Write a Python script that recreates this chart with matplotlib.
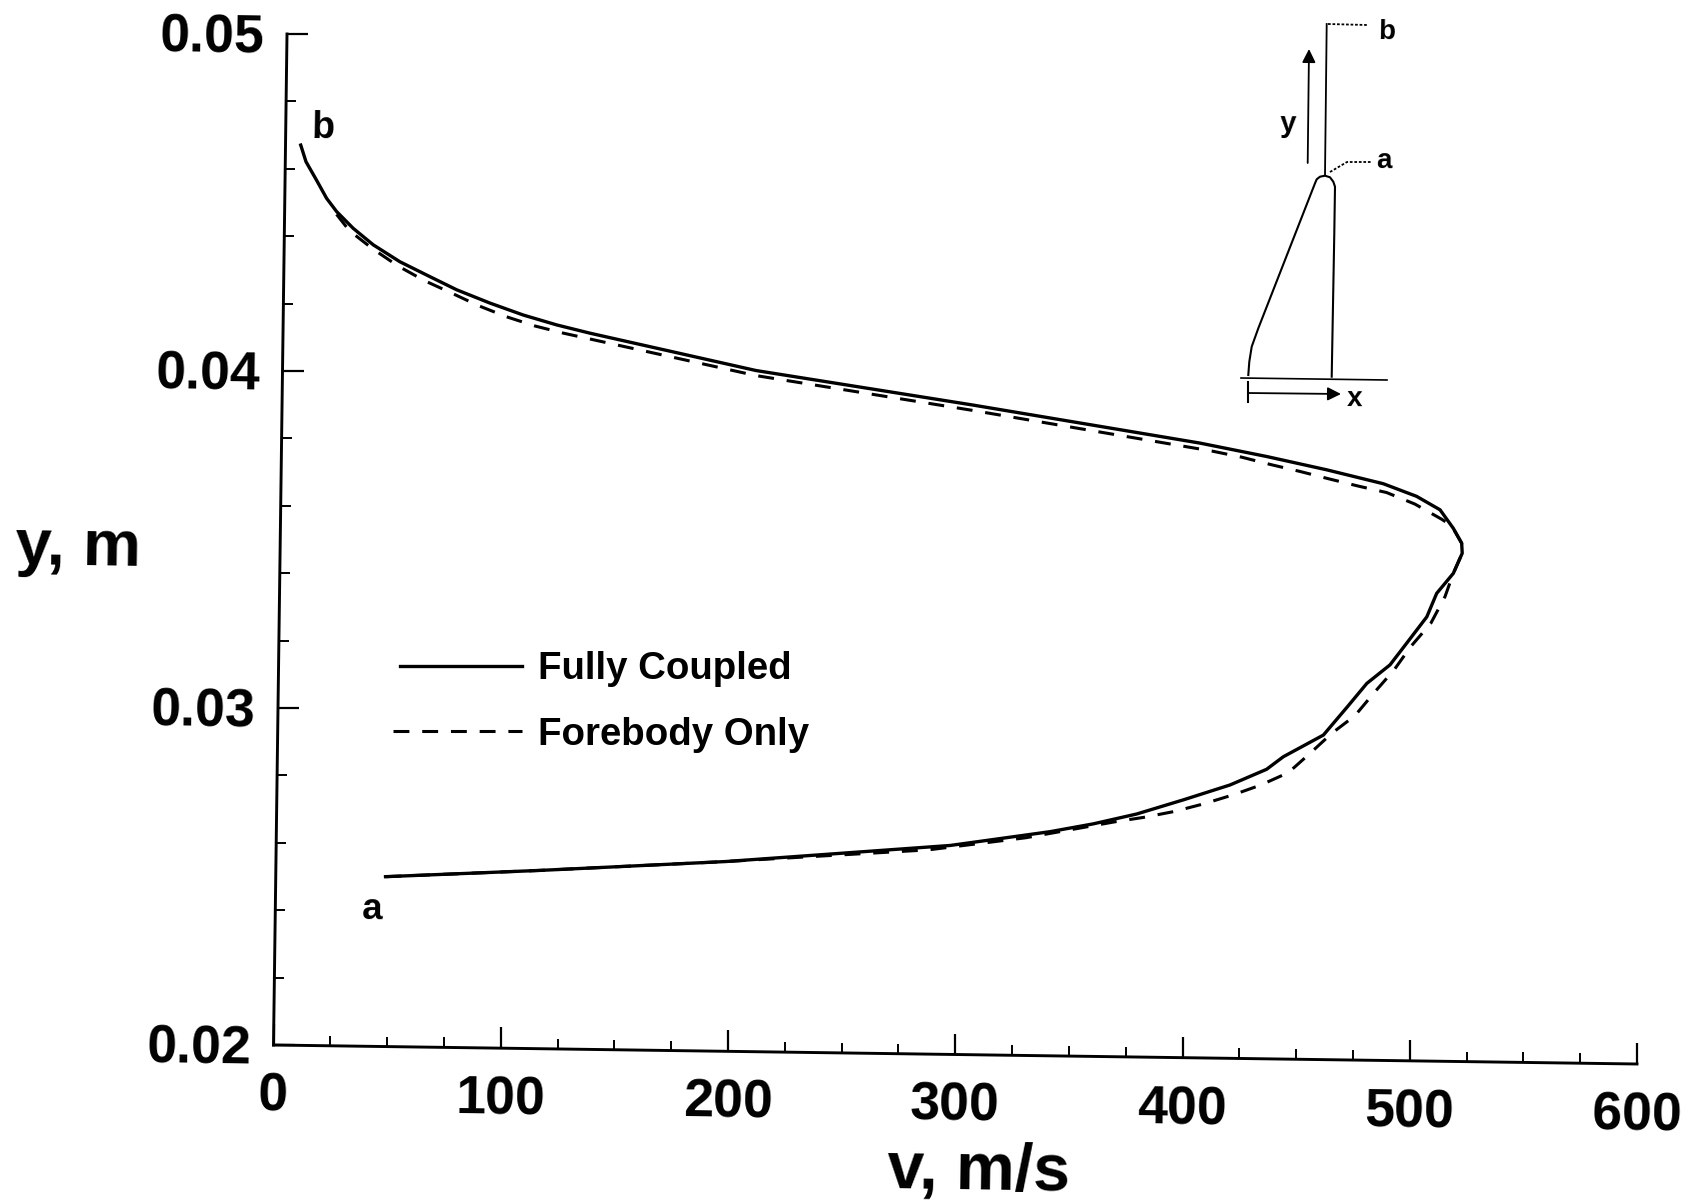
import matplotlib
matplotlib.use('Agg')
import matplotlib.pyplot as plt
from matplotlib.axes import Axes
from matplotlib.projections import register_projection
from matplotlib.transforms import Affine2D, BboxTransformTo, IdentityTransform, blended_transform_factory

W, H = 1693, 1203

# curves (v in m/s, y in m), from a round the nose to b
coupled_v = [48.3, 116.2, 197.9, 296.6, 340.4, 359.4, 378.4, 398.9, 419.3, 435.3, 442.6, 460.1, 470.5, 478.9,
             489.0, 496.2, 504.9, 509.1, 516.3, 520.1, 519.8, 516.0, 510.1, 499.7, 485.0, 460.0, 433.5, 404.1,
             303.5, 208.3, 135.0, 120.4, 105.6, 90.9, 76.2, 64.3, 51.0, 39.2, 30.3, 22.9, 18.4, 13.9, 9.1, 6.7]
coupled_y = [0.02504, 0.02529, 0.02563, 0.0262, 0.02665, 0.0269, 0.02721, 0.02765, 0.02811, 0.02859, 0.02897, 0.02963, 0.03048, 0.03118,
             0.03174, 0.03239, 0.03318, 0.03388, 0.03448, 0.03508, 0.03538, 0.03582, 0.03636, 0.03675, 0.03711, 0.0375, 0.03787, 0.03824,
             0.03928, 0.04021, 0.04125, 0.04148, 0.04176, 0.0421, 0.04248, 0.04286, 0.04329, 0.04378, 0.04426, 0.04475, 0.04514, 0.04567, 0.04622, 0.04671]

forebody_v = [48.3, 116.2, 197.9, 287.0, 329.8, 368.9, 382.1, 394.9, 407.9, 420.8, 432.8, 444.9, 454.3, 463.7, 473.9, 482.2,
              490.8, 498.0, 506.7, 512.8, 516.3, 520.1, 519.8, 515.3, 510.9, 499.0, 486.5, 474.0, 461.2, 448.3, 435.5, 422.5, 409.3,
              303.5, 208.3, 123.3, 110.8, 98.3, 85.8, 74.0, 61.9, 50.3, 39.2, 28.6, 20.7]
forebody_y = [0.02504, 0.02529, 0.02563, 0.02606, 0.02646, 0.02697, 0.02712, 0.0273, 0.02754, 0.02782, 0.02812, 0.0285, 0.02908, 0.02968, 0.03022, 0.03091,
              0.03159, 0.03229, 0.03299, 0.03379, 0.03448, 0.03508, 0.03538, 0.03589, 0.03608, 0.03652, 0.03685, 0.03703, 0.03723, 0.03744, 0.03763, 0.03784, 0.03801,
              0.03912, 0.04006, 0.04124, 0.04144, 0.0417, 0.04202, 0.04238, 0.04274, 0.04316, 0.04365, 0.04419, 0.04485]

x_ticks = [0, 100, 200, 300, 400, 500, 600]
x_minor = [25, 50, 75, 125, 150, 175, 225, 250, 275, 325, 350, 375, 425, 450, 475, 525, 550, 575]
y_ticks = [0.02, 0.03, 0.04, 0.05]
y_labels = ['0.02', '0.03', '0.04', '0.05']
y_minor = [0.022, 0.024, 0.026, 0.028, 0.032, 0.034, 0.036, 0.038, 0.042, 0.044, 0.046, 0.048]

# schematic in the top right corner, in picture pixels
body_x = [1248.3, 1249.3, 1251.7, 1258.3, 1315, 1316.7, 1320, 1325, 1330, 1333.3, 1335, 1334.3, 1331.7]
body_y = [375, 361.7, 346.7, 328.3, 183.3, 179.3, 176.7, 175.7, 177.3, 181.7, 186.7, 233, 376.7]
plate_x = [1326.7, 1325]
plate_y = [24, 175]
base_x = [1241, 1387]
base_y = [378, 380]
lead_a_x = [1330, 1347, 1372]
lead_a_y = [172, 162, 162]
lead_b_x = [1328, 1367]
lead_b_y = [24, 25]

# the scan is a bit crooked, corners of the plot box in pixels
ox, oy = 273.5, 1045
rx, ry = 1637, 1064
tx, ty = 287, 34
TILT = -0.85


class ScanAxes(Axes):
    name = 'scan'

    def _set_lim_and_transforms(self):
        super()._set_lim_and_transforms()
        w, h = rx - ox, oy - ty
        skew = Affine2D.from_values(1, (oy - ry) / h, (tx - ox) / w, 1, 0, 0)
        self.transAxes = skew + BboxTransformTo(self.bbox)
        self.transData = self.transScale + (self.transLimits + self.transAxes)
        to_unit = self.transScale + self.transLimits
        self._xaxis_transform = blended_transform_factory(to_unit, IdentityTransform()) + self.transAxes
        self._yaxis_transform = blended_transform_factory(IdentityTransform(), to_unit) + self.transAxes


register_projection(ScanAxes)

plt.rcParams['font.family'] = ['Liberation Sans', 'DejaVu Sans']
plt.rcParams['font.weight'] = 'bold'

fig = plt.figure(figsize=(W / 100, H / 100), dpi=100)
ax = fig.add_axes([ox / W, 1 - oy / H, (rx - ox) / W, (oy - ty) / H], projection='scan')
ax.patch.set_visible(False)

ax.plot(coupled_v, coupled_y, color='k', lw=2.4, label='Fully Coupled')
ax.plot(forebody_v, forebody_y, color='k', lw=2.2, ls=(0, (5.2, 4.2)), label='Forebody Only')

ax.set_xlim(0, 600)
ax.set_ylim(0.02, 0.05)
ax.set_xticks(x_ticks)
ax.set_xticks(x_minor, minor=True)
ax.set_yticks(y_ticks)
ax.set_yticklabels(y_labels)
ax.set_yticks(y_minor, minor=True)
for s in ['top', 'right']:
    ax.spines[s].set_visible(False)
for s in ['left', 'bottom']:
    ax.spines[s].set_linewidth(2.1)
ax.tick_params(which='major', direction='in', length=15, width=1.6, labelsize=38.6, labelrotation=TILT)
ax.tick_params(which='minor', direction='in', length=7.5, width=1.4)
ax.tick_params(axis='x', which='major', pad=19)
ax.tick_params(axis='y', which='major', pad=15.5)
for tick in ax.yaxis.get_major_ticks():
    tick.label1.set_transform(tick.label1.get_transform() + Affine2D().translate(0, 2))

ax.set_xlabel('v, m/s', fontsize=47.5, fontweight='bold', rotation=TILT, ha='center', va='center')
ax.xaxis.set_label_coords(979 / W, 1 - 1172 / H, transform=fig.transFigure)
ax.set_ylabel('y, m', fontsize=47, fontweight='bold', rotation=TILT, ha='center', va='center')
ax.yaxis.set_label_coords(78 / W, 1 - 548 / H, transform=fig.transFigure)

leg = ax.legend(loc='upper left', bbox_to_anchor=(393 / W, 1 - 651 / H), bbox_transform=fig.transFigure,
                frameon=False, fontsize=27.6, borderpad=0, borderaxespad=0, handlelength=3.37,
                handletextpad=0.42, labelspacing=0.77)
# solid sample starts a little later than the dashed one
solid = leg.get_lines()[0]
xd = list(solid.get_xdata())
xd[0] += 5
solid.set_xdata(xd)

# overlay in picture pixels for the schematic and the a / b marks
over = fig.add_axes([0, 0, 1, 1])
over.set_xlim(0, W)
over.set_ylim(H, 0)
over.axis('off')
over.plot(body_x, body_y, color='k', lw=1.5)
over.plot(plate_x, plate_y, color='k', lw=1.3)
over.plot(base_x, base_y, color='k', lw=1.2)
over.plot(lead_a_x, lead_a_y, color='k', lw=1.3, ls=(0, (1.5, 1)))
over.plot(lead_b_x, lead_b_y, color='k', lw=1.3, ls=(0, (1.5, 1)))
over.plot([1248, 1248], [382, 402], color='k', lw=1.5)
over.annotate('', xy=(1341, 394), xytext=(1248, 393),
              arrowprops=dict(arrowstyle='-|>', color='k', lw=1.3, mutation_scale=20, shrinkA=0, shrinkB=0))
over.annotate('', xy=(1309, 49), xytext=(1307.7, 163),
              arrowprops=dict(arrowstyle='-|>', color='k', lw=1.3, mutation_scale=20, shrinkA=0, shrinkB=0))
for s, px, py, fs in [('a', 1384, 161, 20), ('b', 1387, 32, 20), ('x', 1355, 399, 20), ('y', 1288, 124, 21),
                      ('a', 372, 910, 26.5), ('b', 323, 128, 27)]:
    over.text(px, py, s, fontsize=fs, fontweight='bold', ha='center', va='center', rotation=TILT)

fig.savefig('out.png', dpi=100)
